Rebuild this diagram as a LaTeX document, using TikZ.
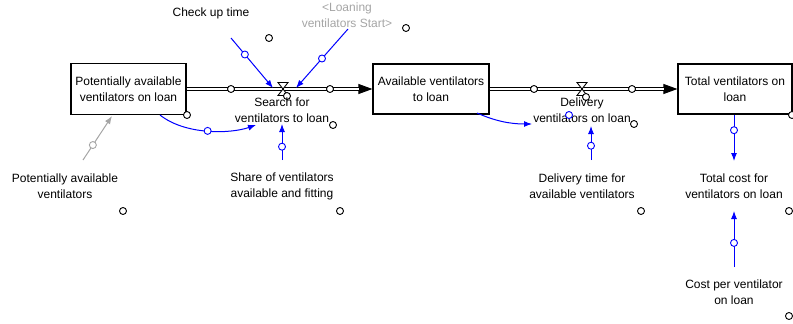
\documentclass[tikz,border=0pt]{standalone}
\usepackage{fontspec}
\setmainfont{Liberation Sans}
\usetikzlibrary{arrows.meta,calc}
\definecolor{lnk}{RGB}{0,0,255}
\definecolor{shadow}{RGB}{165,165,165}
\begin{document}
\begin{tikzpicture}[x=1pt,y=-1pt,
  every node/.style={font=\fontsize{12}{16}\selectfont},
  stock/.style={draw,line width=1.2pt,align=center,inner sep=0pt},
  lbl/.style={align=center,inner sep=0pt},
  link/.style={draw=lnk,line width=1pt,-{Latex[length=8pt,width=6pt]}},
  glink/.style={draw=shadow,line width=1pt,-{Latex[length=8pt,width=6pt]}},
  hnd/.style={circle,draw=lnk,fill=white,line width=0.9pt,minimum size=7pt,inner sep=0pt},
  ghnd/.style={circle,draw=shadow,fill=white,line width=0.9pt,minimum size=7pt,inner sep=0pt},
  dot/.style={circle,draw=black,fill=white,line width=0.9pt,minimum size=7pt,inner sep=0pt},
  pipe/.style={draw=black,double=white,double distance=2.2pt,line width=1.1pt},
  pipetip/.style={draw=black,line width=1pt,-{Triangle[length=14pt,width=10pt]}},
  valve/.style={draw=black,fill=white,line width=0.9pt}
]
\useasboundingbox (0,0) rectangle (793,324);

% stocks
\node[stock,minimum width=115pt,minimum height=51pt] (b1) at (128.5,89) {Potentially available\\ventilators on loan};
\node[stock,minimum width=116pt,minimum height=50pt] (b2) at (431,89) {Available ventilators\\to loan};
\node[stock,minimum width=114pt,minimum height=50pt] (b3) at (735,89) {Total ventilators on\\loan};

% valves
\coordinate (v1) at (283,89);
\coordinate (v2) at (582,89);

% pipes
\draw[pipetip] (v1) -- (b2.west);
\draw[pipe] (b1.east) -- ($(b2.west)+(-13,0)$);
\draw[pipetip] (v2) -- (b3.west);
\draw[pipe] (b2.east) -- ($(b3.west)+(-13,0)$);
\node[dot] (p1) at (231,89) {};
\node[dot] (p2) at (330,89) {};
\node[dot] (p3) at (534,89) {};
\node[dot] (p4) at (632,89) {};
\draw[valve] (278,82.5) -- (288,82.5) -- (278,95.5) -- (288,95.5) -- cycle;
\draw[valve] (577,82.5) -- (587,82.5) -- (577,95.5) -- (587,95.5) -- cycle;
\node[dot] (vc1) at (287,96) {};
\node[dot] (vc2) at (586,97) {};

% labels
\node[lbl] (srch) at (282,110.5) {Search for\\ventilators to loan};
\node[lbl] (dlv) at (582,110.5) {Delivery\\ventilators on loan};
\node[lbl] (chk) at (211,13) {Check up time};
\node[lbl,text=shadow] (lvs) at (347,15) {<Loaning\\ventilators Start>};
\node[lbl] (pav) at (65,186) {Potentially available\\ventilators};
\node[lbl] (share) at (282,186) {Share of ventilators\\available and fitting};
\node[lbl] (dtime) at (582,186.5) {Delivery time for\\available ventilators};
\node[lbl] (tcost) at (734,186.5) {Total cost for\\ventilators on loan};
\node[lbl] (cpv) at (734,292) {Cost per ventilator\\on loan};

% connector end points
\coordinate (chkS) at (231,38);
\coordinate (v1L) at (273,88);
\coordinate (lvsS) at (348,29);
\coordinate (v1R) at (296,88);
\coordinate (b1S) at (160,115);
\coordinate (srchW) at (256,125);
\coordinate (shareN) at (282,160);
\coordinate (srchS) at (282,124);
\coordinate (pavN) at (83,160);
\coordinate (b1SW) at (112,116);
\coordinate (b2S) at (477,113);
\coordinate (dlvW) at (532,124);
\coordinate (dtimeN) at (591,160);
\coordinate (dlvS) at (591,126);
\coordinate (b3S) at (734,115);
\coordinate (tcostN) at (734,161);
\coordinate (cpvN) at (734,267);
\coordinate (tcostS) at (734,211);

% connectors
\draw[link] (chkS) -- node[hnd,pos=0.33] (h1) {} (v1L);
\draw[link] (lvsS) -- node[hnd,pos=0.5] (h2) {} (v1R);
\draw[link] (b1S) .. controls (185,135) and (230,134) .. node[hnd,pos=0.5] (h3) {} (srchW);
\draw[link] (shareN) -- node[hnd,pos=0.37] (h4) {} (srchS);
\draw[glink] (pavN) -- node[ghnd,pos=0.34] (h5) {} (b1SW);
\draw[link] (b2S) .. controls (495,121) and (510,124) .. (dlvW);
\node[hnd] (h6) at (569,115) {};
\draw[link] (dtimeN) -- node[hnd,pos=0.42] (h7) {} (dlvS);
\draw[link] (b3S) -- node[hnd,pos=0.33] (h8) {} (tcostN);
\draw[link] (cpvN) -- node[hnd,pos=0.43] (h9) {} (tcostS);

% small black handles
\node[dot] at (269,38) {};
\node[dot] at (406,28) {};
\node[dot] at (187,115) {};
\node[dot] at (333,125) {};
\node[dot] at (123,211) {};
\node[dot] at (340,211) {};
\node[dot] at (634,124) {};
\node[dot] at (641,211) {};
\node[dot] at (789,211) {};
\node[dot] at (789,316) {};
\node[dot] at (792,115) {};
\end{tikzpicture}
\end{document}
